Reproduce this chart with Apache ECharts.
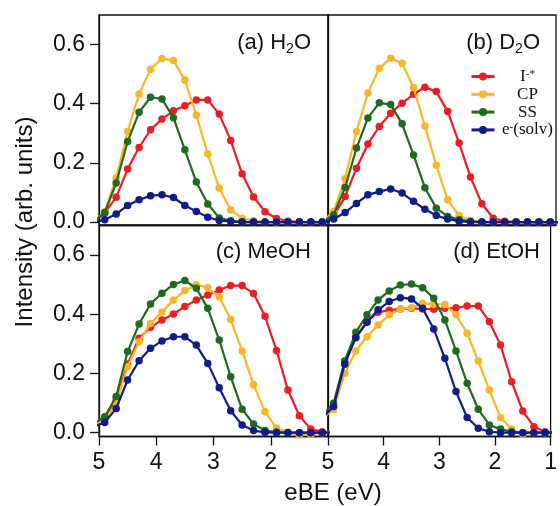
<!DOCTYPE html>
<html>
<head>
<meta charset="utf-8">
<script src="https://cdn.jsdelivr.net/npm/echarts@6/dist/echarts.min.js"></script>
<style>html,body{margin:0;padding:0;background:#fff}#c{width:560px;height:506px}</style>
</head>
<body>
<div id="c"></div>
<script>
// eBE (eV) sample positions
const eBE = [5.1, 4.9, 4.7, 4.5, 4.3, 4.1, 3.9, 3.7, 3.5, 3.3, 3.1, 2.9, 2.7, 2.5, 2.3, 2.1, 1.9, 1.7, 1.5, 1.3, 1.1, 0.9];

// (a) H2O
const H2O_I  = [0, 0.03, 0.084, 0.179, 0.252, 0.312, 0.348, 0.376, 0.393, 0.413, 0.413, 0.365, 0.276, 0.163, 0.085, 0.035, 0.012, 0.003, 0.001, 0, 0, 0];
const H2O_CP = [0, 0.035, 0.149, 0.306, 0.433, 0.517, 0.553, 0.546, 0.480, 0.362, 0.230, 0.115, 0.041, 0.013, 0.004, 0, 0, 0, 0, 0, 0, 0];
const H2O_SS = [0, 0.032, 0.132, 0.272, 0.371, 0.422, 0.416, 0.353, 0.244, 0.135, 0.061, 0.014, 0.004, 0, 0, 0, 0, 0, 0, 0, 0, 0];
const H2O_e  = [0, 0.008, 0.027, 0.056, 0.075, 0.089, 0.092, 0.083, 0.056, 0.036, 0.016, 0.005, 0.002, 0, 0, 0, 0, 0, 0, 0, 0, 0];

// (b) D2O
const D2O_I  = [0, 0.02, 0.086, 0.182, 0.264, 0.323, 0.368, 0.402, 0.432, 0.456, 0.441, 0.374, 0.267, 0.152, 0.062, 0.013, 0.003, 0, 0, 0, 0, 0];
const D2O_CP = [0, 0.036, 0.146, 0.306, 0.436, 0.520, 0.554, 0.537, 0.455, 0.325, 0.192, 0.075, 0.022, 0.005, 0, 0, 0, 0, 0, 0, 0, 0];
const D2O_SS = [0, 0.025, 0.117, 0.250, 0.352, 0.403, 0.397, 0.332, 0.227, 0.116, 0.047, 0.019, 0.008, 0.002, 0, 0, 0, 0, 0, 0, 0, 0];
const D2O_e  = [0, 0.010, 0.032, 0.063, 0.092, 0.103, 0.112, 0.098, 0.070, 0.043, 0.022, 0.010, 0.003, 0, 0, 0, 0, 0, 0, 0, 0, 0];

// (c) MeOH
const MeOH_I  = [0.025, 0.048, 0.110, 0.232, 0.319, 0.356, 0.381, 0.401, 0.426, 0.448, 0.465, 0.482, 0.497, 0.497, 0.470, 0.393, 0.278, 0.144, 0.057, 0.012, 0.003, 0];
const MeOH_CP = [0.025, 0.043, 0.099, 0.223, 0.307, 0.369, 0.408, 0.448, 0.480, 0.500, 0.490, 0.458, 0.382, 0.276, 0.162, 0.071, 0.015, 0.002, -0.008, -0.006, 0, 0];
const MeOH_SS = [0.03, 0.054, 0.122, 0.274, 0.367, 0.435, 0.471, 0.501, 0.514, 0.488, 0.420, 0.313, 0.189, 0.079, 0.029, 0.007, 0.002, 0, 0, 0, 0, 0];
const MeOH_e  = [0.02, 0.034, 0.082, 0.178, 0.243, 0.285, 0.310, 0.324, 0.324, 0.296, 0.234, 0.152, 0.074, 0.026, 0.007, 0.001, 0, 0, 0, 0, 0, 0];

// (d) EtOH
const EtOH_I  = [0.05, 0.088, 0.240, 0.324, 0.375, 0.407, 0.414, 0.418, 0.420, 0.418, 0.417, 0.420, 0.422, 0.428, 0.428, 0.375, 0.296, 0.172, 0.073, 0.020, 0.003, 0];
const EtOH_CP = [0.05, 0.077, 0.200, 0.276, 0.324, 0.364, 0.398, 0.418, 0.422, 0.437, 0.434, 0.433, 0.398, 0.336, 0.242, 0.144, 0.051, 0.012, -0.005, 0, 0, 0];
const EtOH_SS = [0.06, 0.099, 0.242, 0.339, 0.398, 0.448, 0.479, 0.499, 0.502, 0.490, 0.454, 0.381, 0.276, 0.167, 0.079, 0.026, 0.012, 0.003, 0, 0, 0, 0];
const EtOH_e  = [0.05, 0.088, 0.231, 0.321, 0.373, 0.415, 0.443, 0.456, 0.452, 0.420, 0.350, 0.251, 0.139, 0.051, 0.015, 0.003, 0, 0, 0, 0, 0, 0];

const seriesNames = ['I-*', 'CP', 'SS', 'e-(solv)'];
const panelLabels = ['(a) H{s|2}O', '(b) D{s|2}O', '(c) MeOH', '(d) EtOH'];
const yTickValues = [0, 0.2, 0.4, 0.6];
const panels = [
  [H2O_I, H2O_CP, H2O_SS, H2O_e],
  [D2O_I, D2O_CP, D2O_SS, D2O_e],
  [MeOH_I, MeOH_CP, MeOH_SS, MeOH_e],
  [EtOH_I, EtOH_CP, EtOH_SS, EtOH_e]
];

const colors = ['#ee1c24', '#fbb526', '#1e6b1e', '#101b8c'];
const SANS = '"Liberation Sans", Arial, sans-serif';
const SERIF = '"Liberation Serif", "Times New Roman", serif';

const grids = [
  {left: 99, top: 15, width: 229, height: 210},
  {left: 328, top: 15, width: 228, height: 210},
  {left: 99, top: 225.5, width: 229, height: 211},
  {left: 328, top: 225.5, width: 228, height: 211}
].map(g => Object.assign(g, {show: true, borderColor: '#111', borderWidth: 1.3, backgroundColor: 'transparent', containLabel: false}));

const xAxes = [0, 1, 2, 3].map(i => ({
  type: 'value', gridIndex: i, inverse: true, min: 1, max: 5, interval: 1,
  axisLine: {show: true, onZero: false, lineStyle: {color: '#111', width: 1.3}},
  axisTick: {show: i >= 2, length: 9, inside: false, lineStyle: {color: '#111', width: 1.3}},
  axisLabel: {show: i >= 2, showMinLabel: i === 3, margin: 15, fontFamily: SANS, fontSize: 23, color: '#111'},
  splitLine: {show: false}
}));

const yAxes = [0, 1, 2, 3].map(i => ({
  type: 'value', gridIndex: i, min: i < 2 ? -0.01 : -0.013, max: 0.7,
  axisLine: {show: true, onZero: false, lineStyle: {color: '#111', width: 1.3}},
  axisTick: {show: i % 2 === 0, length: 9, customValues: yTickValues, lineStyle: {color: '#111', width: 1.3}},
  axisLabel: {show: i % 2 === 0, customValues: yTickValues, margin: 14, fontFamily: SANS, fontSize: 23, color: '#111',
              formatter: v => v.toFixed(1)},
  splitLine: {show: false}
}));

const series = [];
panels.forEach((set, p) => {
  set.forEach((vals, k) => {
    series.push({
      type: 'line', name: seriesNames[k], xAxisIndex: p, yAxisIndex: p,
      data: eBE.map((x, i) => [x, vals[i]]),
      symbol: 'circle', symbolSize: 7.5, showAllSymbol: true, clip: true,
      lineStyle: {color: colors[k], width: 2.2},
      itemStyle: {color: colors[k]},
      z: 2 + k, animation: false
    });
  });
});

const titles = panelLabels.map((t, i) => ({
  text: t,
  right: i % 2 === 0 ? 249 : 20,
  top: i < 2 ? 30 : 239,
  padding: 0,
  textStyle: {
    fontFamily: SANS, fontSize: 22, fontWeight: 'normal', color: '#111', lineHeight: 26,
    rich: {s: {fontFamily: SANS, fontSize: 14, lineHeight: 14, verticalAlign: 'bottom', color: '#111'}}
  }
}));

const legendText = {
  'I-*': '{m|I}{p|-*}',
  'CP': '{m|CP}',
  'SS': '{m|SS}',
  'e-(solv)': '{m|e}{p|-}{m|(solv)}'
};

const option = {
  animation: false,
  backgroundColor: '#fff',
  grid: grids,
  xAxis: xAxes,
  yAxis: yAxes,
  title: titles,
  legend: {
    data: seriesNames,
    orient: 'vertical',
    left: 470, top: 68,
    itemWidth: 23, itemHeight: 10, itemGap: 0.8,
    padding: 0,
    lineStyle: {width: 3},
    formatter: n => legendText[n],
    textStyle: {
      width: 56, lineHeight: 16.5, fontFamily: SERIF, fontSize: 17, color: '#111',
      rich: {
        m: {align: 'center', fontFamily: SERIF, fontSize: 17, lineHeight: 16.5, color: '#111'},
        p: {align: 'center', fontFamily: SERIF, fontSize: 11, lineHeight: 10, verticalAlign: 'top', color: '#111'}
      }
    }
  },
  graphic: [
    {type: 'text', x: 25, y: 222, rotation: Math.PI / 2,
     style: {text: 'Intensity (arb. units)', font: '24px ' + SANS, fill: '#111', align: 'center', verticalAlign: 'middle', textAlign: 'center', textVerticalAlign: 'middle'}},
    {type: 'text', x: 333, y: 493,
     style: {text: 'eBE (eV)', font: '24px ' + SANS, fill: '#111', align: 'center', verticalAlign: 'middle', textAlign: 'center', textVerticalAlign: 'middle'}}
  ],
  series: series
};

const chart = echarts.init(document.getElementById('c'), null, {renderer: 'canvas'});
chart.setOption(option);
</script>
</body>
</html>
